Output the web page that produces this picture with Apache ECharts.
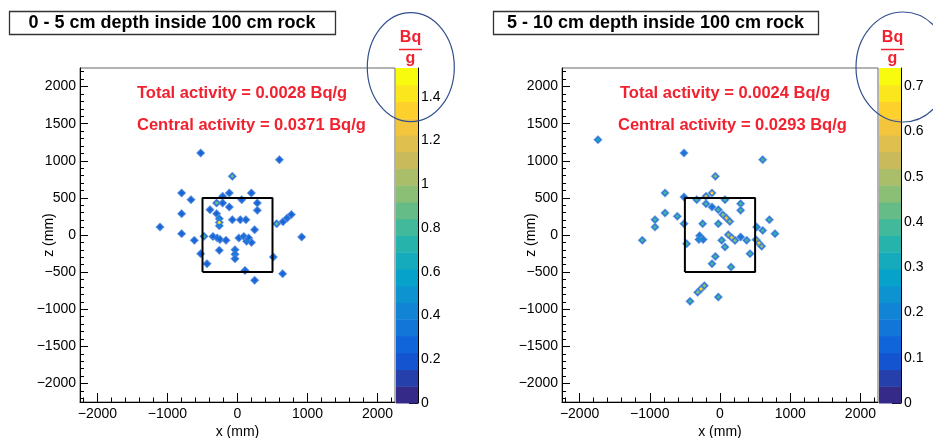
<!DOCTYPE html>
<html><head><meta charset="utf-8">
<script src="https://cdn.jsdelivr.net/npm/echarts@6/dist/echarts.min.js"></script>
<style>html,body{margin:0;padding:0;background:#fff;}#c{width:933px;height:438px;}</style>
</head><body><div id="c"></div>
<script>
// ---------- data ----------
const leftX = [-526,598,-74,-798,-117,198,-212,-664,-298,-212,60,283,-393,-117,283,-798,-298,
  -260,-260,-260,-74,40,120,560,650,710,770,-1107,245,-798,-479,-350,-290,-250,-164,-617,
  20,90,160,200,130,917,-260,-36,-36,-36,-526,512,-436,107,645,245];
const leftZ = [1105,1015,790,566,566,566,521,476,431,431,476,431,341,377,332,287,287,
  220,170,125,206,206,206,152,180,228,275,107,71,18,-18,-20,-40,-60,-72,-72,
  -40,-20,-40,-100,-85,-27,-207,-200,-260,-320,-252,-297,-387,-477,-522,-611];
const leftV = [0.3,0.3,0.85,0.3,0.3,0.3,0.3,0.3,0.9,0.3,0.3,0.3,0.3,0.3,0.3,0.3,0.3,
  0.5,1.45,0.5,0.3,0.3,0.3,0.85,0.3,0.35,0.3,0.3,0.3,0.3,0.8,0.3,0.35,0.3,0.3,0.3,
  0.3,0.35,0.3,0.3,0.45,0.3,0.3,0.35,0.45,0.35,0.3,0.3,0.3,0.3,0.3,0.3];

const rightX = [-1738,-513,608,-66,-783,-513,-114,-199,-332,71,-199,-114,-24,294,294,-783,-926,-608,
  40,90,140,703,-926,-513,-247,-24,522,608,783,-290,-300,-240,-1106,118,166,214,294,24,380,
  513,554,594,-475,71,427,-66,-114,157,-318,-271,-223,-427,-24];
const rightZ = [1284,1105,1015,790,566,512,566,521,476,476,422,377,341,422,332,296,206,251,
  274,229,183,206,107,152,152,152,107,62,18,-10,-60,-60,-72,4,-35,-73,-27,-72,-72,
  -63,-108,-153,-117,-162,-252,-288,-387,-432,-773,-728,-683,-894,-836];
const rightV = [0.3,0.15,0.4,0.45,0.4,0.15,0.65,0.55,0.4,0.4,0.4,0.15,0.4,0.4,0.4,0.4,0.4,0.4,
  0.45,0.6,0.45,0.4,0.4,0.4,0.4,0.4,0.3,0.4,0.35,0.2,0.25,0.2,0.4,0.45,0.6,0.45,0.15,0.4,0.4,
  0.45,0.6,0.45,0.4,0.4,0.4,0.4,0.4,0.4,0.45,0.65,0.45,0.4,0.4];

const boxX = [-500,500,500,-500,-500];
const boxZ = [-500,-500,500,500,-500];

const xTickLabels = [-2000,-1000,0,1000,2000];
const zTickLabels = [-2000,-1500,-1000,-500,0,500,1000,1500,2000];
const leftBarTicks = [0,0.2,0.4,0.6,0.8,1,1.2,1.4];
const rightBarTicks = [0,0.1,0.2,0.3,0.4,0.5,0.6,0.7];
const leftMax = 1.532, rightMax = 0.74, nBands = 20;
const axisRange = 2250;

// ---------- palette (ROOT kBird) ----------
const st=[0,.125,.25,.375,.5,.625,.75,.875,1];
const rr=[0.2082,0.0592,0.0780,0.0232,0.1802,0.5301,0.8186,0.9956,0.9764];
const gg=[0.1664,0.3599,0.5041,0.6419,0.7178,0.7492,0.7328,0.7862,0.9832];
const bb=[0.5293,0.8684,0.8385,0.7914,0.6425,0.4662,0.3499,0.1968,0.0539];
function bird(t){
  let k=0; while(k<st.length-2 && t>st[k+1]) k++;
  const f=(t-st[k])/(st[k+1]-st[k]);
  const c=a=>Math.round(255*(a[k]+(a[k+1]-a[k])*f));
  return 'rgb('+c(rr)+','+c(gg)+','+c(bb)+')';
}
function bands(max){
  const out=[];
  for(let i=0;i<nBands;i++) out.push({lo:max*i/nBands, hi:max*(i+1)/nBands, color:bird(i/(nBands-1))});
  return out;
}
const leftBands=bands(leftMax), rightBands=bands(rightMax);

const minorX=[], minorZ=[];
for(let v=-2200; v<=2200; v+=200) minorX.push(v);
for(let v=-2200; v<=2200; v+=100) minorZ.push(v);

const FONT='Liberation Sans';
const fmt=v=>String(v).replace('-','\u2212');
const RED='#f2212f';

function plotAxes(gi, showNames){
  const x={gridIndex:gi,type:'value',min:-axisRange,max:axisRange,position:'bottom',
    axisLine:{show:showNames,onZero:false,lineStyle:{color:'#000',width:1}},
    splitLine:{show:false},
    axisTick:{show:true,inside:true,length:showNames?9:4.5,lineStyle:{color:'#000'},customValues:showNames?xTickLabels:minorX},
    axisLabel:{show:showNames,customValues:xTickLabels,formatter:fmt,color:'#000',fontFamily:FONT,fontSize:14,margin:5},
    name:showNames?'x (mm)':'',nameLocation:'middle',nameGap:23,nameMoveOverlap:false,
    nameTextStyle:{color:'#000',fontFamily:FONT,fontSize:14}};
  const y={gridIndex:gi,type:'value',min:-axisRange,max:axisRange,position:'left',
    axisLine:{show:showNames,onZero:false,lineStyle:{color:'#000',width:1}},
    splitLine:{show:false},
    axisTick:{show:true,inside:true,length:showNames?8:4,lineStyle:{color:'#000'},customValues:showNames?zTickLabels:minorZ},
    axisLabel:{show:showNames,customValues:zTickLabels,formatter:fmt,color:'#000',fontFamily:FONT,fontSize:14,margin:4},
    name:showNames?'z (mm)':'',nameLocation:'middle',nameGap:24,nameMoveOverlap:false,
    nameTextStyle:{color:'#000',fontFamily:FONT,fontSize:14}};
  return [x,y];
}
function barAxes(gi,max,ticks){
  const x={gridIndex:gi,type:'value',min:0,max:1,show:false,axisLine:{onZero:false}};
  const y={gridIndex:gi,type:'value',min:0,max:max,position:'right',
    axisLine:{show:true,onZero:false,lineStyle:{color:'#000',width:1}},
    splitLine:{show:false},
    axisTick:{show:true,inside:true,length:9,lineStyle:{color:'#000'},customValues:ticks},
    axisLabel:{show:true,customValues:ticks,color:'#000',fontFamily:FONT,fontSize:14,margin:3}};
  return [x,y];
}

const G={containLabel:false,outerBoundsMode:'none'};
const grids=[
  Object.assign({left:80,top:68,width:315,height:334,show:true,borderColor:'#666',borderWidth:1,backgroundColor:'#fff'},G),
  Object.assign({left:80,top:68,width:315,height:334},G),
  Object.assign({left:396,top:68,width:22,height:335},G),
  Object.assign({left:562,top:68,width:316,height:334,show:true,borderColor:'#666',borderWidth:1,backgroundColor:'#fff'},G),
  Object.assign({left:562,top:68,width:316,height:334},G),
  Object.assign({left:879,top:68,width:22,height:335},G)
];
const axesL=plotAxes(0,true), axesLm=plotAxes(1,false), axesLb=barAxes(2,leftMax,leftBarTicks);
const axesR=plotAxes(3,true), axesRm=plotAxes(4,false), axesRb=barAxes(5,rightMax,rightBarTicks);
const xAxes=[axesL[0],axesLm[0],axesLb[0],axesR[0],axesRm[0],axesRb[0]];
const yAxes=[axesL[1],axesLm[1],axesLb[1],axesR[1],axesRm[1],axesRb[1]];

function pts(X,Z,V){return X.map((x,i)=>[x,Z[i],V[i]]);}
function boxPts(){return boxX.map((x,i)=>[x,boxZ[i]]);}
function barSeries(gi,bandList){
  return {type:'custom',xAxisIndex:gi,yAxisIndex:gi,silent:true,
    data:bandList.map(b=>[b.lo,b.hi]),
    renderItem:function(params,api){
      const p0=api.coord([0,api.value(0)]), p1=api.coord([1,api.value(1)]);
      return {type:'rect',shape:{x:p0[0],y:p1[1],width:p1[0]-p0[0],height:p0[1]-p1[1]+0.5},
        style:{fill:bandList[params.dataIndex].color}};
    }};
}
function ringSeries(gi,data,color){
  return {type:'scatter',xAxisIndex:gi,yAxisIndex:gi,data:data,symbol:'diamond',symbolSize:8.5,
    itemStyle:{color:color,opacity:1,borderColor:'rgba(120,170,235,0.8)',borderWidth:0.8},silent:true,z:2};
}
function coreSeries(gi,data){
  return {type:'scatter',xAxisIndex:gi,yAxisIndex:gi,data:data,symbol:'diamond',symbolSize:4,
    itemStyle:{opacity:1},silent:true,z:3};
}
function boxSeries(gi){
  return {type:'line',xAxisIndex:gi,yAxisIndex:gi,data:boxPts(),showSymbol:false,symbol:'none',
    lineStyle:{color:'#000',width:2},silent:true,z:4};
}
function pieces(bl){return bl.map((b,i)=>i===bl.length-1?{gte:b.lo,lte:b.hi+1,color:b.color}:{gte:b.lo,lt:b.hi,color:b.color});}

const leftData=pts(leftX,leftZ,leftV), rightData=pts(rightX,rightZ,rightV);
const series=[
  ringSeries(0,leftData,'#2f6fd6'), coreSeries(0,leftData), boxSeries(0), barSeries(2,leftBands),
  ringSeries(3,rightData,'#3478d6'), coreSeries(3,rightData), boxSeries(3), barSeries(5,rightBands)
];

function titleBox(x,w,text){
  return {type:'group',children:[
    {type:'rect',shape:{x:x+0.5,y:11.5,width:w,height:23},style:{fill:'#fff',stroke:'#333',lineWidth:1.3}},
    {type:'text',x:x+w/2,y:23.5,style:{text:text,fill:'#000',font:'bold 18px "Liberation Sans"',align:'center',verticalAlign:'middle'}}
  ]};
}
function redText(x,y,t){return {type:'text',x:x,y:y,z:10,style:{text:t,fill:RED,font:'bold 16.5px "Liberation Sans"',align:'left',verticalAlign:'middle'}};}
function unitLabel(cx){
  return {type:'group',z:10,children:[
    {type:'text',x:cx,y:38,style:{text:'Bq',fill:RED,font:'bold 16px "Liberation Sans"',align:'center',verticalAlign:'middle'}},
    {type:'line',shape:{x1:cx-11.5,y1:49.5,x2:cx+11.5,y2:49.5},style:{stroke:RED,lineWidth:1.5}},
    {type:'text',x:cx,y:51,style:{text:'g',fill:RED,font:'bold 16px "Liberation Sans"',align:'center',verticalAlign:'top'}}
  ]};
}
function ellipse(cx,cy,rx,ry){return {type:'ellipse',z:20,shape:{cx:cx,cy:cy,rx:rx,ry:ry},style:{fill:null,stroke:'#33508f',lineWidth:1.2}};}

const chart=echarts.init(document.getElementById('c'),null,{renderer:'canvas'});
chart.setOption({
  animation:false,
  backgroundColor:'#fff',
  grid:grids, xAxis:xAxes, yAxis:yAxes,
  visualMap:[
    {type:'piecewise',show:false,dimension:2,seriesIndex:1,pieces:pieces(leftBands)},
    {type:'piecewise',show:false,dimension:2,seriesIndex:5,pieces:pieces(rightBands)}
  ],
  series:series,
  graphic:[
    titleBox(9,326,'0 - 5 cm depth inside 100 cm rock'),
    titleBox(493,325,'5 - 10 cm depth inside 100 cm rock'),
    redText(137,93,'Total activity = 0.0028 Bq/g'),
    redText(137,125,'Central activity = 0.0371 Bq/g'),
    redText(620,93,'Total activity = 0.0024 Bq/g'),
    redText(618,125,'Central activity = 0.0293 Bq/g'),
    unitLabel(410.5), unitLabel(892.5),
    ellipse(410.8,67.2,43.5,54.5), ellipse(903,67,47,55)
  ]
});
</script></body></html>
